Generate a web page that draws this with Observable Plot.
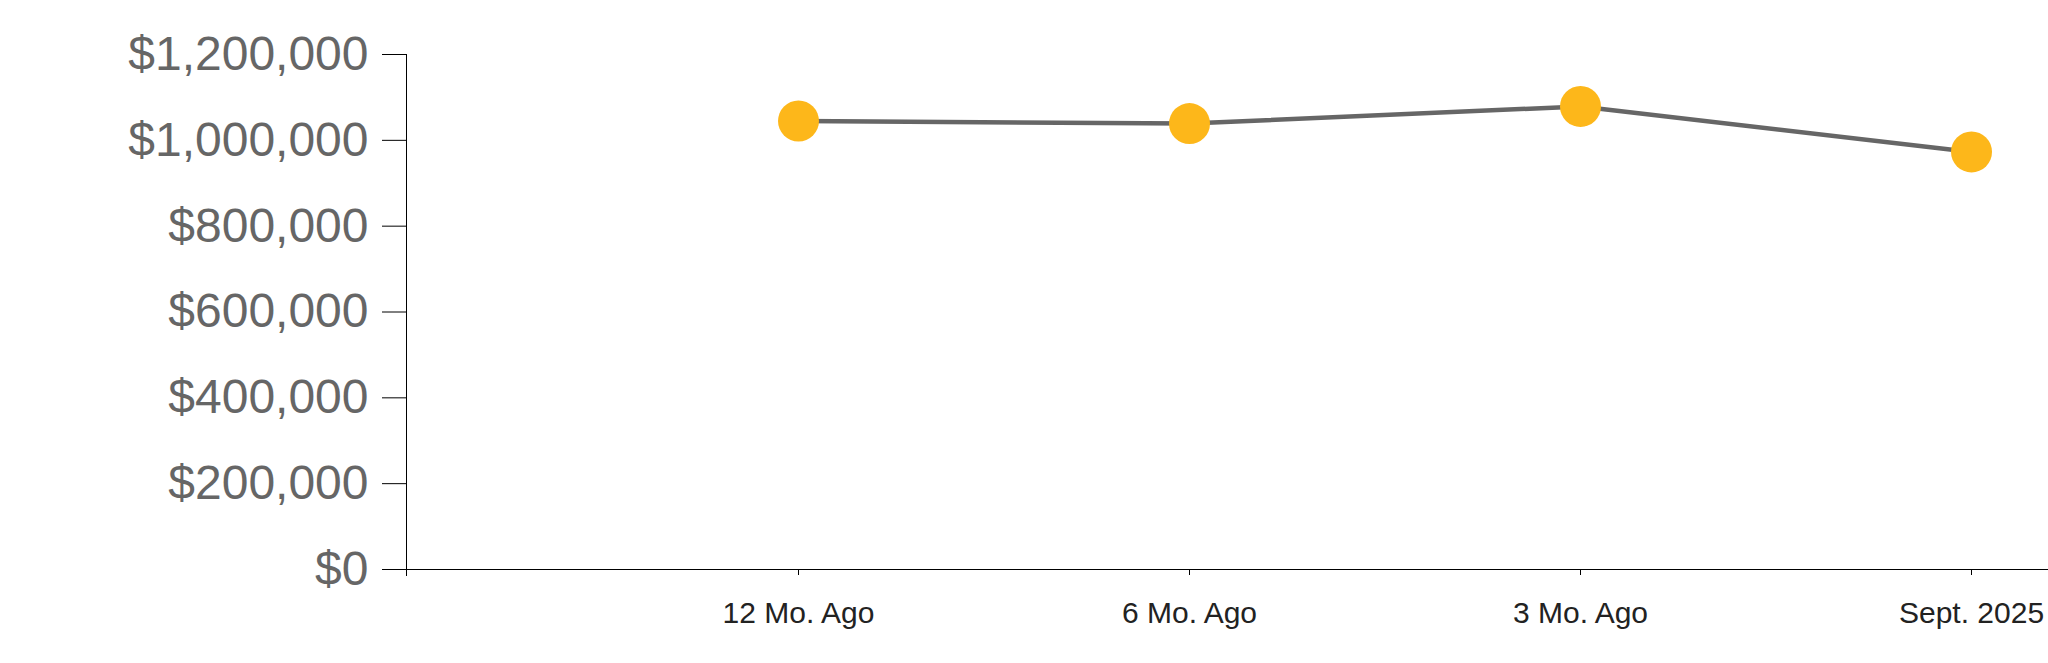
<!DOCTYPE html>
<html>
<head>
<meta charset="utf-8">
<script src="https://cdn.jsdelivr.net/npm/d3@7"></script>
<script src="https://cdn.jsdelivr.net/npm/@observablehq/plot@0.6"></script>
<style>
  html, body { margin: 0; padding: 0; background: #fff; }
  #chart svg { display: block; font-family: "Liberation Sans", Arial, sans-serif; }
</style>
</head>
<body>
<div id="chart"></div>
<script>
const periods = ["12 Mo. Ago", "6 Mo. Ago", "3 Mo. Ago", "Sept. 2025"];
const medianPrice = [1045000, 1039000, 1079000, 973000];
const yTicks = [0, 200000, 400000, 600000, 800000, 1000000, 1200000];

const data = periods.map((p, i) => ({period: p, value: medianPrice[i]}));

const chart = Plot.plot({
  width: 2048,
  height: 663,
  marginLeft: 406,
  marginRight: 0,
  marginTop: 54,
  marginBottom: 94,
  style: {fontFamily: '"Liberation Sans", Arial, sans-serif', background: "#fff"},
  x: {type: "point", domain: periods, padding: 0, insetLeft: 391, insetRight: 76},
  y: {domain: [0, 1200000]},
  marks: [
    Plot.frame({anchor: "left", stroke: "#000", insetBottom: -6}),
    Plot.ruleY([0], {stroke: "#000"}),
    Plot.axisY({
      ticks: yTicks,
      tickFormat: d3.format("$,.0f"),
      tickSize: 24,
      tickPadding: 14,
      fontSize: 48,
      stroke: "#000",
      fill: "#666",
      label: null
    }),
    Plot.axisX({
      tickSize: 6,
      tickPadding: 26,
      fontSize: 30,
      stroke: "#000",
      fill: "#222",
      label: null
    }),
    Plot.line(data, {x: "period", y: "value", stroke: "#666", strokeWidth: 4.5}),
    Plot.dot(data, {x: "period", y: "value", r: 20.5, fill: "#FDB71A", stroke: "none"})
  ]
});
document.getElementById("chart").appendChild(chart);
</script>
</body>
</html>
